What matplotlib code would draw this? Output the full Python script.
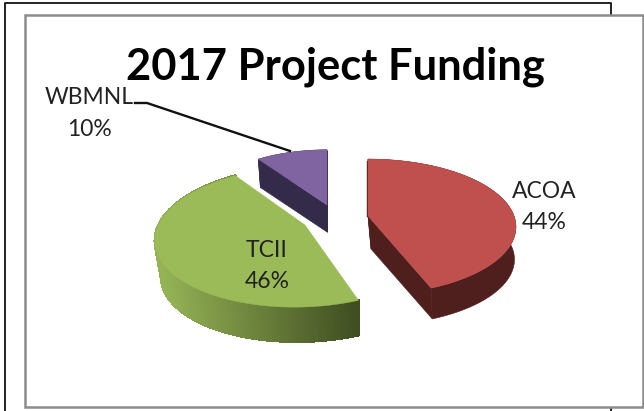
import numpy as np
import matplotlib
matplotlib.use("Agg")
import matplotlib.pyplot as plt
from matplotlib.patches import Polygon
from matplotlib.collections import PolyCollection
from matplotlib.colors import to_rgb

title = "2017 Project Funding"
categories = ["ACOA", "TCII", "WBMNL"]
values = [44, 46, 10]

top_colors = ["#C0504D", "#9BBB59", "#8064A2"]
side_colors = ["#4F1F1D", "#3F4D20", "#342A4A"]
# apex x, apex y, a, b, perspective, shear, extrude dx, extrude dy
geom = {
    "ACOA": (368, 216, 146, 66, .16, 0, 3, 33),
    "TCII": (305, 225, 146.5, 69, .16, 9, 2, 37),
    "WBMNL": (327, 205, 132, 64, .16, 0, 0, 27),
}
# x, y of name line, y of percent line
label_pos = {"ACOA": (544, 191, 222), "TCII": (267, 250, 281), "WBMNL": (89, 97, 129)}

fig = plt.figure(figsize=(6.44, 4.11), dpi=100, facecolor="white")
ax = fig.add_axes([0, 0, 1, 1])
ax.set_xlim(0, 644)
ax.set_ylim(411, 0)
ax.axis("off")

# outer black frame, then grey chart frame
ax.plot([5, 5, 611, 611], [411, 3.5, 3.5, 411], color="#111111", lw=1.3, zorder=1)
ax.add_patch(Polygon([(25, 15), (643, 15), (643, 407), (25, 407)], closed=True,
                     fc="white", ec="#8C8C8C", lw=1.8, zorder=2))


def project(th, g, scale=1.0, shift=(0, 0)):
    ox, oy, a, b, p, s, _, _ = g
    x, y = np.sin(th), np.cos(th)
    d = 1 + p * y
    return (ox + shift[0] + scale * (a * x + s * y) / d,
            oy + shift[1] - scale * b * y / d)


fracs = np.array(values) / sum(values)
edges = np.concatenate([[0], np.cumsum(fracs)]) * 2 * np.pi

for i in [2, 1, 0]:
    name = categories[i]
    g = geom[name]
    shift = (g[6], g[7])
    th = np.linspace(edges[i], edges[i + 1], 180)
    tx, ty = project(th, g)
    bx, by = project(th, g, .97, shift)
    ox, oy = g[0], g[1]
    aox, aoy = ox + shift[0], oy + shift[1]
    z = 3 + (2 - i)

    c0 = np.array(to_rgb(top_colors[i]))
    c1 = np.array(to_rgb(side_colors[i]))
    if name == "TCII":
        quads, cols = [], []
        for k in range(len(th) - 1):
            quads.append([(tx[k], ty[k]), (tx[k + 1], ty[k + 1]),
                          (bx[k + 1], by[k + 1]), (bx[k], by[k])])
            t = np.clip((tx[k] - 160) / 198, 0, 1)
            cols.append(c0 * (.93 - .93 * t) + c1 * (.07 + .93 * t))
        ax.add_collection(PolyCollection(quads, facecolors=cols, edgecolors=cols,
                                         linewidths=1.2, antialiased=False, zorder=z))
    else:
        ax.add_patch(Polygon(np.column_stack([np.r_[tx, bx[::-1]], np.r_[ty, by[::-1]]]),
                             closed=True, fc=c1, ec=c1, lw=.4, zorder=z))
    # cut faces
    for ex, ey, ebx, eby in [(tx[0], ty[0], bx[0], by[0]),
                             (tx[-1], ty[-1], bx[-1], by[-1])]:
        if name == "TCII":
            continue
        ax.add_patch(Polygon([(ox, oy), (ex, ey), (ebx, eby), (aox, aoy)],
                             closed=True, fc=c1, ec=c1, lw=.4, zorder=z))
    if name == "ACOA":
        ax.plot([tx[0] - .5, ox - .5], [ty[0] + 2, oy], color=c1, lw=1, zorder=z)
    ax.add_patch(Polygon(np.column_stack([np.r_[ox, tx], np.r_[oy, ty]]), closed=True,
                         fc=top_colors[i], ec=top_colors[i], lw=.3, zorder=z + .5))

for i, name in enumerate(categories):
    x, y1, y2 = label_pos[name]
    ax.text(x, y1, name, family="Lato", fontsize=16.5, color="#222222",
            ha="center", va="center", zorder=10)
    ax.text(x, y2, f"{values[i]}%", family="Lato", fontsize=16.5, color="#222222",
            ha="center", va="center", zorder=10)

ax.plot([135, 147, 290], [103, 103, 151], color="#111111", lw=1.7, zorder=9)
ax.text(335, 67, title, family="Lato", fontweight="bold", fontsize=31.3, color="black",
        ha="center", va="center", zorder=10)

fig.savefig("out.png", dpi=100)
